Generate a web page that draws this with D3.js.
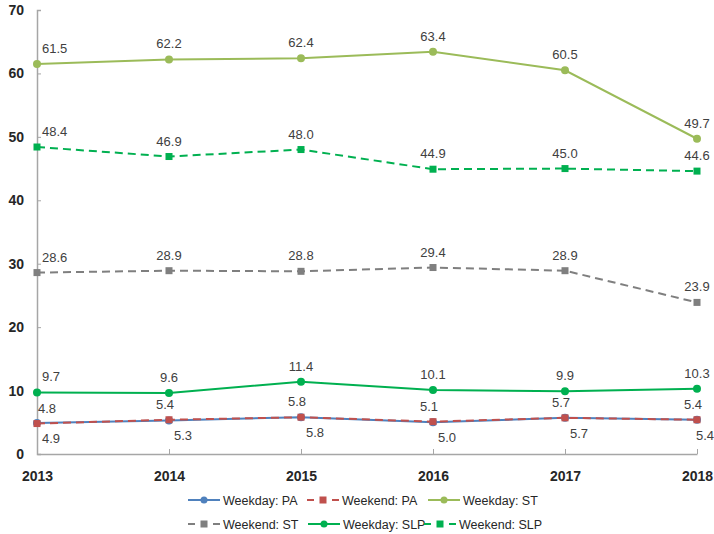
<!DOCTYPE html>
<html><head><meta charset="utf-8">
<script src="https://cdn.jsdelivr.net/npm/d3@7"></script>
<style>body{margin:0;background:#fff}svg{display:block}</style>
</head><body>
<svg id="c" width="714" height="534"></svg>
<script>
const years = ["2013","2014","2015","2016","2017","2018"];
const yTicks = [0,10,20,30,40,50,60,70];
const seriesNames = ["Weekday: PA","Weekend: PA","Weekday: ST","Weekend: ST","Weekday: SLP","Weekend: SLP"];
const weekdayPA = [4.9,5.3,5.8,5.0,5.7,5.4];
const weekendPA = [4.8,5.4,5.8,5.1,5.7,5.4];
const weekdayST = [61.5,62.2,62.4,63.4,60.5,49.7];
const weekendST = [28.6,28.9,28.8,29.4,28.9,23.9];
const weekdaySLP = [9.7,9.6,11.4,10.1,9.9,10.3];
const weekendSLP = [48.4,46.9,48.0,44.9,45.0,44.6];

const series = [
  {name:seriesNames[0], values:weekdayPA, color:"#4f81bd", dash:null, marker:"circle", below:true},
  {name:seriesNames[1], values:weekendPA, color:"#c0504d", dash:"8,5", marker:"square", below:false},
  {name:seriesNames[2], values:weekdayST, color:"#9bbb59", dash:null, marker:"circle", below:false},
  {name:seriesNames[3], values:weekendST, color:"#7f7f7f", dash:"8,5", marker:"square", below:false},
  {name:seriesNames[4], values:weekdaySLP, color:"#00b050", dash:null, marker:"circle", below:false},
  {name:seriesNames[5], values:weekendSLP, color:"#00b050", dash:"8,5", marker:"square", below:false}
];

const svg = d3.select("#c");
const x = d3.scalePoint().domain(years).range([37,697]);
const y = d3.scaleLinear().domain([0,70]).range([454,10]);
const axisColor = "#a6a6a6";
const font = "'Liberation Sans', Arial, sans-serif";

// y axis
const ya = svg.append("g").attr("transform","translate(37,0)")
  .call(d3.axisRight(y).tickValues(yTicks).tickSize(4).tickFormat(d3.format("d")));
ya.select(".domain").attr("stroke",axisColor).attr("stroke-width",1.5);
ya.selectAll(".tick line").attr("stroke",axisColor);
ya.selectAll(".tick text").attr("x",-13).attr("text-anchor","end")
  .attr("font-family",font).attr("font-size",14).attr("font-weight","bold").attr("fill","#262626");

// x axis
const xa = svg.append("g").attr("transform","translate(0,454)")
  .call(d3.axisTop(x).tickSize(5).tickSizeOuter(0));
xa.select(".domain").attr("stroke",axisColor).attr("stroke-width",1.5);
xa.selectAll(".tick line").attr("stroke",axisColor);
xa.selectAll(".tick text").attr("y",27).attr("dy",0)
  .attr("font-family",font).attr("font-size",14).attr("font-weight","bold").attr("fill","#262626");

const line = d3.line().x((d,i)=>x(years[i])).y(d=>y(d));

function drawMarker(g, type, cx, cy, color, sz){
  if(type==="circle") g.append("circle").attr("cx",cx).attr("cy",cy).attr("r",sz||4).attr("fill",color);
  else { const s=sz||7; g.append("rect").attr("x",cx-s/2).attr("y",cy-s/2).attr("width",s).attr("height",s).attr("fill",color); }
}

series.forEach(s=>{
  const g = svg.append("g");
  g.append("path").datum(s.values).attr("d",line).attr("fill","none")
    .attr("stroke",s.color).attr("stroke-width",2).attr("stroke-dasharray",s.dash);
  s.values.forEach((v,i)=>drawMarker(g,s.marker,x(years[i]),y(v),s.color));
});

// labels
series.forEach(s=>{
  s.values.forEach((v,i)=>{
    const px = x(years[i]), py = y(v);
    let tx, ty, anchor;
    if(s.below){
      tx = Math.min(px+14, 705); ty = py+20; anchor="middle";
    } else {
      ty = py-11;
      if(i===0){ tx = px+5; anchor="start"; if(s.name==="Weekend: PA") tx = px+1; }
      else { tx = px; anchor="middle"; if(s.name==="Weekend: PA") tx = px-4; }
    }
    svg.append("text").attr("x",tx).attr("y",ty).attr("text-anchor",anchor)
      .attr("font-family",font).attr("font-size",13).attr("fill","#404040")
      .text(v.toFixed(1));
  });
});

// legend
const legPos = [[188,500],[307,500],[428,500],[188,524],[308,524],[424,524]];
series.forEach((s,i)=>{
  const [lx,ly] = legPos[i];
  const g = svg.append("g");
  const w = 32;
  if(s.dash){
    g.append("line").attr("x1",lx).attr("x2",lx+7).attr("y1",ly).attr("y2",ly).attr("stroke",s.color).attr("stroke-width",2);
    g.append("line").attr("x1",lx+w-7).attr("x2",lx+w).attr("y1",ly).attr("y2",ly).attr("stroke",s.color).attr("stroke-width",2);
  } else {
    g.append("line").attr("x1",lx).attr("x2",lx+w).attr("y1",ly).attr("y2",ly).attr("stroke",s.color).attr("stroke-width",2);
  }
  drawMarker(g,s.marker,lx+w/2,ly,s.color, s.marker==="circle"?3.5:7);
  g.append("text").attr("x",lx+w+3).attr("y",ly+4.5)
    .attr("font-family",font).attr("font-size",12.5).attr("fill","#262626").text(s.name);
});
</script>
</body></html>
